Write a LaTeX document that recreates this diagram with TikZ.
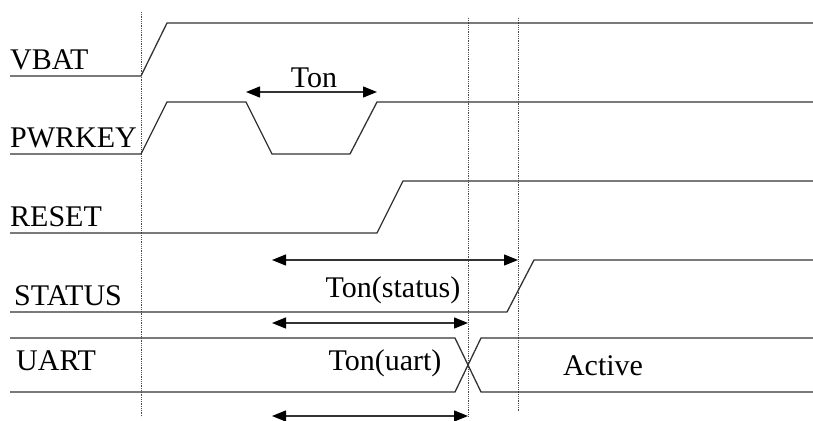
\documentclass[tikz,border=0pt]{standalone}
\usepackage{fontspec}
\setmainfont{Liberation Serif}
\usetikzlibrary{arrows.meta}
\begin{document}
\begin{tikzpicture}[x=1pt,y=-1pt,
  wave/.style={line width=1.3pt,draw=black!80},
  guide/.style={line width=0.8pt,draw=black!70,densely dotted},
  dim/.style={line width=1.3pt,draw=black!80,{Triangle[length=14pt,width=11pt,black]}-{Triangle[length=14pt,width=11pt,black]}},
  siglabel/.style={anchor=base west,inner sep=0pt,font=\fontsize{30}{35}\selectfont},
  txt/.style={anchor=base,inner sep=0pt,font=\fontsize{30}{35}\selectfont}]
\useasboundingbox (0,0) rectangle (813,420);
% guide lines
\coordinate (g1t) at (141,12); \coordinate (g1b) at (141,417);
\coordinate (g2t) at (468,18); \coordinate (g2b) at (468,417);
\coordinate (g3t) at (518,18); \coordinate (g3b) at (518,412);
\draw[guide] (g1t) -- (g1b);
\draw[guide] (g2t) -- (g2b);
\draw[guide] (g3t) -- (g3b);
% labels
\node[siglabel] (lvbat) at (10,69) {VBAT};
\node[siglabel] (lpwr) at (10,147) {PWRKEY};
\node[siglabel] (lrst) at (10,226) {RESET};
\node[siglabel] (lsts) at (14,305) {STATUS};
\node[siglabel] (luart) at (16,370) {UART};
% VBAT
\draw[wave] (10,76) -- (141,76) -- (167,23) -- (813,23);
% PWRKEY
\draw[wave] (10,154) -- (141,154) -- (167,102) -- (246,102) -- (272,154) -- (350,154) -- (377,102) -- (813,102);
% RESET
\draw[wave] (10,233) -- (377,233) -- (403,181) -- (813,181);
% STATUS
\draw[wave] (10,312) -- (507,312) -- (534,260) -- (813,260);
% UART
\draw[wave] (10,338) -- (455,338) -- (481,392) -- (813,392);
\draw[wave] (10,392) -- (455,392) -- (481,338) -- (813,338);
% dimension arrows
\coordinate (ta) at (246,92); \coordinate (tb) at (377,92);
\draw[dim] (ta) -- (tb);
\node[txt] (ton) at (314,87) {Ton};
\coordinate (sa) at (272,260); \coordinate (sb) at (518,260);
\draw[dim] (sa) -- (sb);
\node[txt] (tons) at (393,297) {Ton(status)};
\coordinate (ua) at (272,323); \coordinate (ub) at (468,323);
\draw[dim] (ua) -- (ub);
\node[txt] (tonu) at (385,370) {Ton(uart)};
\coordinate (va) at (272,416); \coordinate (vb) at (468,416);
\draw[dim] (va) -- (vb);
\node[txt] (act) at (603,375) {Active};
\end{tikzpicture}
\end{document}
